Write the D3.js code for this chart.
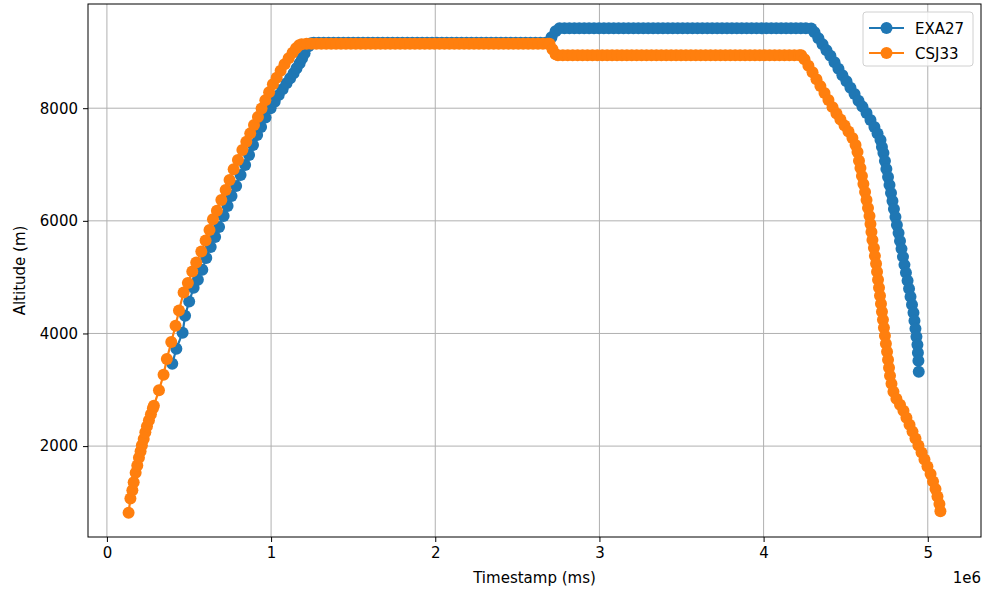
<!DOCTYPE html>
<html>
<head>
<meta charset="utf-8">
<script src="https://cdn.jsdelivr.net/npm/d3@7"></script>
<style>
    body { margin: 0; background: #fff; }
    text { font-family: "DejaVu Sans", sans-serif; }
</style>
</head>
<body>
<svg id="chart" width="984" height="589"></svg>
<script>
// Flight data: timestamps in seconds (x1000 = ms), altitudes in metres
var seriesNames = ["EXA27", "CSJ33"];
var seriesColors = ["#1f77b4", "#ff7f0e"];
var xTickValues = [0, 1, 2, 3, 4, 5];
var yTickValues = [2000, 4000, 6000, 8000];

var exaTime = [398, 423, 461, 476, 501, 528, 554, 581, 605, 632, 659, 683,
    711, 735, 759, 787, 814, 842, 866, 890, 915, 939, 966, 997, 1022, 1046,
    1070, 1094, 1116, 1137, 1155, 1174, 1189, 1204, 1228, 1244,
    1260, 1290, 1320, 1350, 1380, 1410, 1440, 1470, 1500, 1530, 1560, 1590,
    1620, 1650, 1680, 1710, 1740, 1770, 1800, 1830, 1860, 1890, 1920, 1950,
    1980, 2010, 2040, 2070, 2100, 2130, 2160, 2190, 2220, 2250, 2280, 2310,
    2340, 2370, 2400, 2430, 2460, 2490, 2520, 2550, 2580, 2610, 2640, 2670,
    2686, 2708, 2733, 2757,
    2787, 2817, 2847, 2877, 2907, 2937, 2967, 2997, 3027, 3057, 3087, 3117,
    3147, 3177, 3207, 3237, 3267, 3297, 3327, 3357, 3387, 3417, 3447, 3477,
    3507, 3537, 3567, 3597, 3627, 3657, 3687, 3717, 3747, 3777, 3807, 3837,
    3867, 3897, 3927, 3957, 3987, 4017, 4047, 4077, 4107, 4137, 4167, 4197,
    4227, 4257, 4290,
    4310, 4334, 4359, 4383, 4407, 4432, 4456, 4480, 4505, 4529, 4554, 4578,
    4602, 4627, 4651, 4675, 4694, 4712, 4721, 4730, 4739, 4748, 4758, 4767,
    4776, 4785, 4794, 4803, 4812, 4822, 4831, 4840, 4849, 4858, 4867, 4877,
    4886, 4895, 4904, 4913, 4919, 4925, 4931, 4937, 4940, 4943, 4945];
var exaAlt = [3463, 3729, 4013, 4314, 4567, 4810, 4952, 5130, 5342, 5537,
    5714, 5892, 6087, 6264, 6441, 6619, 6814, 6991, 7168, 7346, 7523, 7665,
    7833, 8000, 8116, 8232, 8338, 8445, 8533, 8622, 8710, 8799, 8888, 8977,
    9101, 9155,
    9160, 9160, 9160, 9160, 9160, 9160, 9160, 9160, 9160, 9160, 9160, 9160,
    9160, 9160, 9160, 9160, 9160, 9160, 9160, 9160, 9160, 9160, 9160, 9160,
    9160, 9160, 9160, 9160, 9160, 9160, 9160, 9160, 9160, 9160, 9160, 9160,
    9160, 9160, 9160, 9160, 9160, 9160, 9160, 9160, 9160, 9160, 9160, 9160,
    9160, 9260, 9366, 9420,
    9420, 9420, 9420, 9420, 9420, 9420, 9420, 9420, 9420, 9420, 9420, 9420,
    9420, 9420, 9420, 9420, 9420, 9420, 9420, 9420, 9420, 9420, 9420, 9420,
    9420, 9420, 9420, 9420, 9420, 9420, 9420, 9420, 9420, 9420, 9420, 9420,
    9420, 9420, 9420, 9420, 9420, 9420, 9420, 9420, 9420, 9420, 9420, 9420,
    9420, 9420, 9415,
    9349, 9243, 9137, 9030, 8932, 8817, 8702, 8587, 8480, 8365, 8250, 8134,
    8028, 7913, 7789, 7665, 7549, 7434, 7310, 7204, 7062, 6920, 6778, 6636,
    6495, 6353, 6211, 6069, 5927, 5785, 5643, 5502, 5360, 5218, 5076, 4934,
    4792, 4651, 4509, 4367, 4225, 4083, 3941, 3799, 3658, 3516, 3321];

var csjTime = [132, 143, 155, 163, 175, 185, 195, 205, 213, 224, 234, 244,
    256, 268, 280, 286, 317, 345, 365, 392, 418, 439, 467, 493, 520, 544,
    575, 601, 625, 646, 670, 697, 723, 747, 772, 798, 825, 849, 873, 896,
    920, 942, 965, 988, 1011, 1034, 1058, 1082, 1107, 1131, 1152, 1171, 1186,
    1216, 1246, 1276, 1306, 1336, 1366, 1396, 1426, 1456, 1486, 1516, 1546,
    1576, 1606, 1636, 1666, 1696, 1726, 1756, 1786, 1816, 1846, 1876, 1906,
    1936, 1966, 1996, 2026, 2056, 2086, 2116, 2146, 2176, 2206, 2236, 2266,
    2296, 2326, 2356, 2386, 2416, 2446, 2476, 2506, 2536, 2566, 2596, 2626,
    2656, 2686, 2696, 2714, 2733, 2747,
    2777, 2807, 2837, 2867, 2897, 2927, 2957, 2987, 3017, 3047, 3077, 3107,
    3137, 3167, 3197, 3227, 3257, 3287, 3317, 3347, 3377, 3407, 3437, 3467,
    3497, 3527, 3557, 3587, 3617, 3647, 3677, 3707, 3737, 3767, 3797, 3827,
    3857, 3887, 3917, 3947, 3977, 4007, 4037, 4067, 4097, 4127, 4157, 4187,
    4217, 4229,
    4249, 4273, 4298, 4322, 4346, 4371, 4395, 4420, 4444, 4468, 4493, 4517,
    4541, 4560, 4572, 4581, 4590, 4599, 4608, 4618, 4627, 4636, 4645, 4651,
    4657, 4663, 4672, 4678, 4685, 4691, 4697, 4703, 4709, 4715, 4721, 4727,
    4733, 4739, 4745, 4752, 4758, 4764, 4770, 4779, 4791, 4809, 4831, 4852,
    4870, 4889, 4907, 4925, 4943, 4962, 4980, 4998, 5017, 5032, 5047, 5059,
    5071, 5077];
var csjAlt = [816, 1069, 1216, 1358, 1525, 1654, 1791, 1908, 2014, 2128,
    2245, 2351, 2457, 2564, 2670, 2718, 2990, 3268, 3546, 3848, 4137, 4408,
    4727, 4894, 5099, 5259, 5454, 5649, 5838, 6028, 6181, 6371, 6548, 6725,
    6915, 7080, 7257, 7404, 7553, 7700, 7842, 7993, 8143, 8285, 8427, 8542,
    8666, 8782, 8888, 8986, 9065, 9119, 9137,
    9144, 9144, 9144, 9144, 9144, 9144, 9144, 9144, 9144, 9144, 9144, 9144,
    9144, 9144, 9144, 9144, 9144, 9144, 9144, 9144, 9144, 9144, 9144, 9144,
    9144, 9144, 9144, 9144, 9144, 9144, 9144, 9144, 9144, 9144, 9144, 9144,
    9144, 9144, 9144, 9144, 9144, 9144, 9144, 9144, 9144, 9144, 9144, 9144,
    9144, 9144, 9144, 9048, 8959, 8940,
    8940, 8940, 8940, 8940, 8940, 8940, 8940, 8940, 8940, 8940, 8940, 8940,
    8940, 8940, 8940, 8940, 8940, 8940, 8940, 8940, 8940, 8940, 8940, 8940,
    8940, 8940, 8940, 8940, 8940, 8940, 8940, 8940, 8940, 8940, 8940, 8940,
    8940, 8940, 8940, 8940, 8940, 8940, 8940, 8940, 8940, 8940, 8940, 8940,
    8940, 8940,
    8870, 8755, 8640, 8516, 8392, 8268, 8144, 8019, 7904, 7798, 7691, 7585,
    7470, 7346, 7221, 7066, 6938, 6796, 6654, 6512, 6371, 6229, 6087, 5945,
    5803, 5661, 5519, 5377, 5236, 5094, 4952, 4810, 4668, 4527, 4385, 4243,
    4101, 3959, 3817, 3675, 3534, 3392, 3250, 3108, 2966, 2842, 2736, 2629,
    2505, 2381, 2257, 2133, 2009, 1885, 1761, 1637, 1503, 1371, 1238, 1105,
    972, 844];

//Build the series from the arrays (timestamps converted to ms)
var series = [
    {name: seriesNames[0], color: seriesColors[0],
     points: exaTime.map(function(t, i) { return [t * 1000, exaAlt[i]]; })},
    {name: seriesNames[1], color: seriesColors[1],
     points: csjTime.map(function(t, i) { return [t * 1000, csjAlt[i]]; })}
];

//Plot area
var margin = {top: 4, right: 3, bottom: 52, left: 88},
    width = 984 - margin.left - margin.right,
    height = 589 - margin.top - margin.bottom;

var svg = d3.select("#chart");
var g = svg.append("g")
    .attr("transform", "translate(" + margin.left + "," + margin.top + ")");

//Domains padded by 5% like matplotlib
var allPts = series[0].points.concat(series[1].points);
function padded(ext) {
    var p = (ext[1] - ext[0]) * 0.05;
    return [ext[0] - p, ext[1] + p];
}
var x = d3.scaleLinear()
    .domain(padded(d3.extent(allPts, function(d) { return d[0]; })))
    .range([0, width]);
var y = d3.scaleLinear()
    .domain(padded(d3.extent(allPts, function(d) { return d[1]; })))
    .range([height, 0]);

//Grid lines
g.append("g").selectAll("line").data(xTickValues).enter().append("line")
    .attr("x1", function(d) { return x(d * 1e6); })
    .attr("x2", function(d) { return x(d * 1e6); })
    .attr("y1", 0).attr("y2", height)
    .attr("stroke", "#b0b0b0").attr("stroke-width", 1);
g.append("g").selectAll("line").data(yTickValues).enter().append("line")
    .attr("y1", function(d) { return y(d); })
    .attr("y2", function(d) { return y(d); })
    .attr("x1", 0).attr("x2", width)
    .attr("stroke", "#b0b0b0").attr("stroke-width", 1);

//Lines and markers, one series after the other
var line = d3.line()
    .x(function(d) { return x(d[0]); })
    .y(function(d) { return y(d[1]); });

series.forEach(function(s) {
    g.append("path")
        .datum(s.points)
        .attr("fill", "none")
        .attr("stroke", s.color)
        .attr("stroke-width", 2.2)
        .attr("d", line);
    g.append("g").selectAll("circle")
        .data(s.points).enter().append("circle")
        .attr("cx", function(d) { return x(d[0]); })
        .attr("cy", function(d) { return y(d[1]); })
        .attr("r", 6)
        .attr("fill", s.color);
});

//Axes
var xAxis = g.append("g")
    .attr("transform", "translate(0," + height + ")")
    .call(d3.axisBottom(x)
        .tickValues(xTickValues.map(function(d) { return d * 1e6; }))
        .tickFormat(function(d) { return d / 1e6; })
        .tickSize(5).tickPadding(5));
var yAxis = g.append("g")
    .call(d3.axisLeft(y)
        .tickValues(yTickValues)
        .tickFormat(d3.format("d"))
        .tickSize(5).tickPadding(5));

[xAxis, yAxis].forEach(function(a) {
    a.select(".domain").remove();
    a.selectAll("text").attr("font-size", 15)
        .attr("font-family", "DejaVu Sans").attr("fill", "#000");
    a.selectAll("line").attr("stroke", "#000");
});

//Frame
g.append("rect")
    .attr("width", width).attr("height", height)
    .attr("fill", "none").attr("stroke", "#000").attr("stroke-width", 1);

//Axis labels and offset text
svg.append("text")
    .attr("x", margin.left + width / 2).attr("y", 583)
    .attr("text-anchor", "middle").attr("font-size", 15)
    .text("Timestamp (ms)");
svg.append("text")
    .attr("transform", "translate(25," + (margin.top + height / 2) + ")rotate(-90)")
    .attr("text-anchor", "middle").attr("font-size", 15)
    .text("Altitude (m)");
svg.append("text")
    .attr("x", margin.left + width).attr("y", 583)
    .attr("text-anchor", "end").attr("font-size", 15)
    .text("1e6");

//Legend
var legend = g.append("g")
    .attr("transform", "translate(" + (width - 118) + ",8)");
legend.append("rect")
    .attr("width", 110).attr("height", 54).attr("rx", 3)
    .attr("fill", "#fff").attr("fill-opacity", 0.8)
    .attr("stroke", "#d0d0d0");
series.forEach(function(s, i) {
    var ly = 16 + i * 25;
    legend.append("line")
        .attr("x1", 6).attr("x2", 41).attr("y1", ly).attr("y2", ly)
        .attr("stroke", s.color).attr("stroke-width", 2.2);
    legend.append("circle")
        .attr("cx", 23.5).attr("cy", ly).attr("r", 6).attr("fill", s.color);
    legend.append("text")
        .attr("x", 52).attr("y", ly + 5.5).attr("font-size", 15)
        .text(s.name);
});
</script>
</body>
</html>
